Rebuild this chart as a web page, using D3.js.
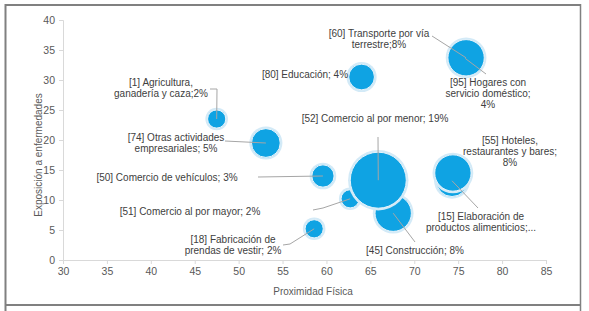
<!DOCTYPE html>
<html><head><meta charset="utf-8">
<script src="https://cdn.jsdelivr.net/npm/d3@7"></script>
<style>html,body{margin:0;padding:0;background:#fff;}svg{display:block;font-family:"Liberation Sans",Arial,sans-serif;}</style>
</head><body>
<svg id="c" width="589" height="311"></svg>
<script>
// ---- data ----
const codes   = ["1","74","80","60","95","52","45","50","51","18","55","15"];
const xValues = [47.5, 53.1, 64.0, 75.9, 75.8, 65.9, 67.6, 59.6, 62.7, 58.6, 74.4, 74.3];
const yValues = [23.5, 19.5, 30.5, 33.7, 33.6, 13.3,  7.8, 14.0, 10.2,  5.2, 14.5, 13.2];
const sizes   = [2, 5, 4, 8, 4, 19, 8, 3, 2, 2, 8, 6];
const labels  = [
  ["[1] Agricultura,", "ganadería y caza;2%"],
  ["[74] Otras actividades", "empresariales; 5%"],
  ["[80] Educación; 4%"],
  ["[60] Transporte por vía", "terrestre;8%"],
  ["[95] Hogares con", "servicio  doméstico;", "4%"],
  ["[52] Comercio al por menor; 19%"],
  ["[45] Construcción; 8%"],
  ["[50] Comercio de vehículos; 3%"],
  ["[51] Comercio al por mayor; 2%"],
  ["[18] Fabricación de", "prendas de vestir; 2%"],
  ["[55] Hoteles,", "restaurantes y bares;", "8%"],
  ["[15] Elaboración de", "productos alimenticios;..."]
];
const xTicks = [30,35,40,45,50,55,60,65,70,75,80,85];
const yTicks = [0,5,10,15,20,25,30,35,40];
const xTitle = "Proximidad Física";
const yTitle = "Exposición a enfermedades";

// ---- label layout (pixel positions of text and leader start points) ----
const labelLayout = {
  "1":  {x:161, y:86,  leader:[[210,89],[217,89]]},
  "74": {x:176, y:140.5, leader:[[225,141]]},
  "80": {x:305, y:77.5, leader:null},
  "60": {x:379, y:36.5, leader:[[432,36]]},
  "95": {x:488, y:85.5, leader:[[486,74]]},
  "52": {x:375, y:121.5, leader:[[378,137]]},
  "45": {x:415, y:253.5, leader:[[415,242]]},
  "50": {x:167, y:180.5, leader:[[258,177]]},
  "51": {x:190, y:214.5, leader:[[313,210],[323,208]]},
  "18": {x:233, y:242.5, leader:[[283,245],[290,244]]},
  "55": {x:510, y:143.5, leader:null},
  "15": {x:481, y:219.5, leader:[[478,208]]}
};

const svg = d3.select("#c");
const frameColor = "#808080";
// frame
svg.append("line").attr("x1",5.5).attr("x2",5.5).attr("y1",4).attr("y2",311).attr("stroke",frameColor).attr("stroke-width",2);
svg.append("line").attr("x1",5).attr("x2",581).attr("y1",5).attr("y2",5).attr("stroke",frameColor).attr("stroke-width",2);
svg.append("line").attr("x1",580.5).attr("x2",580.5).attr("y1",4).attr("y2",311).attr("stroke",frameColor).attr("stroke-width",1.5);
svg.append("line").attr("x1",5).attr("x2",581).attr("y1",305).attr("y2",305).attr("stroke",frameColor).attr("stroke-width",2);

const x = d3.scaleLinear().domain([30,85]).range([63,546]);
const y = d3.scaleLinear().domain([0,40]).range([260,20]);
const r = d3.scaleSqrt().domain([0,19]).range([0,28]);

const axisColor = "#d9d9d9", tickText = "#595959";
const gx = svg.append("g").attr("transform","translate(0,260)")
  .call(d3.axisBottom(x).tickValues(xTicks).tickSize(4).tickPadding(4).tickFormat(d3.format("d")));
const gy = svg.append("g").attr("transform","translate(63,0)")
  .call(d3.axisLeft(y).tickValues(yTicks).tickSize(4).tickPadding(4).tickFormat(d3.format("d")));
[gx,gy].forEach(g=>{
  g.selectAll("path,line").attr("stroke",axisColor);
  g.selectAll("text").attr("fill",tickText).style("font-size","10.5px").style("font-family","'Liberation Sans',Arial,sans-serif");
});

svg.append("text").attr("x",313).attr("y",294.5).attr("text-anchor","middle")
  .attr("fill",tickText).style("font-size","10px").text(xTitle);
svg.append("text").attr("transform","translate(42,155) rotate(-90)").attr("text-anchor","middle")
  .attr("fill",tickText).style("font-size","10px").text(yTitle);

const data = codes.map((c,i)=>({code:c,x:xValues[i],y:yValues[i],s:sizes[i],label:labels[i]}));
const order = data.slice().sort((a,b)=>a.s-b.s);

const bub = svg.append("g");
order.forEach(d=>{
  bub.append("circle").attr("cx",x(d.x)).attr("cy",y(d.y)).attr("r",r(d.s)+2.2)
    .attr("fill","#d3eaf7");
  bub.append("circle").attr("cx",x(d.x)).attr("cy",y(d.y)).attr("r",r(d.s))
    .attr("fill","#0fa3e3").attr("stroke","#e6f3fb").attr("stroke-width",1);
});

// leaders
const lg = svg.append("g");
data.forEach(d=>{
  const L = labelLayout[d.code];
  if(L.leader){
    const pts = L.leader.concat([[x(d.x),y(d.y)]]);
    lg.append("path").attr("d",d3.line()(pts)).attr("fill","none")
      .attr("stroke","#a6a6a6").attr("stroke-width",1);
  }
});

// labels
const tg = svg.append("g");
data.forEach(d=>{
  const L = labelLayout[d.code];
  const t = tg.append("text").attr("text-anchor","middle").attr("fill","#404040").style("font-size","10px");
  d.label.forEach((line,i)=>{
    t.append("tspan").attr("x",L.x).attr("y",L.y+i*11).text(line);
  });
});
</script>
</body></html>
